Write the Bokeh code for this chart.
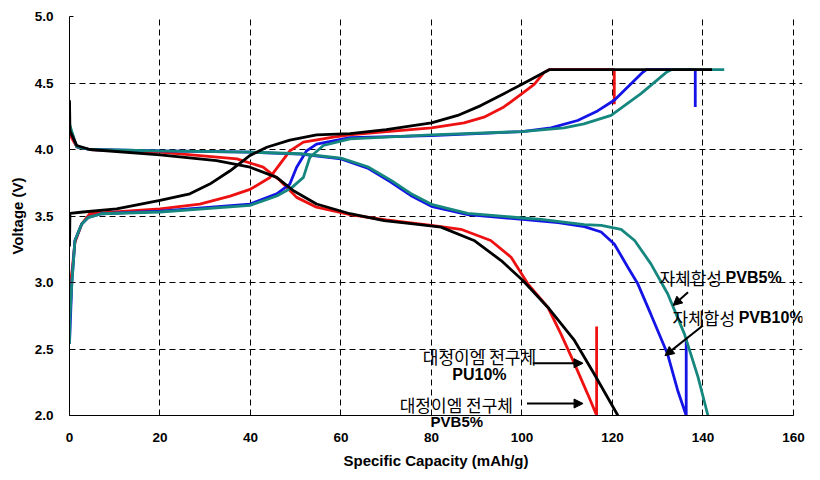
from bokeh.plotting import figure
from bokeh.models import (Range1d, FixedTicker, PrintfTickFormatter, Label, Arrow,
                          NormalHead, LinearAxis)
from bokeh.core.properties import value
from bokeh.embed import file_html
from bokeh.resources import INLINE

# ---- data (capacity mAh/g, voltage V) ----
black_chg_x = [0, 0.1, 3, 10.4, 20, 26.6, 31, 35.5, 39.9, 43.6, 48.7, 54.6, 62, 70, 80, 85.8, 90.9, 96, 100, 106, 142]
black_chg_v = [3.27, 3.52, 3.53, 3.554, 3.617, 3.667, 3.74, 3.84, 3.955, 4.017, 4.07, 4.11, 4.12, 4.15, 4.20, 4.256, 4.33, 4.42, 4.49, 4.6, 4.6]
black_dis_x = [0, 0.1, 1.6, 4.5, 20, 32.5, 39.9, 45.8, 49.5, 54.6, 62, 69.5, 76, 82.1, 89.4, 95.4, 100.2, 105.7, 111.6, 116, 121.2]
black_dis_v = [4.37, 4.14, 4.03, 4.0, 3.96, 3.917, 3.867, 3.79, 3.69, 3.59, 3.517, 3.466, 3.44, 3.416, 3.316, 3.165, 3.015, 2.814, 2.564, 2.31, 2.0]

red_chg_x = [0, 0.6, 1.2, 2.7, 4.5, 10, 20, 28.8, 35.5, 39.9, 44.3, 46.5, 48.7, 51.7, 58.3, 62, 68.8, 80, 87.2, 91.6, 96, 100, 102.7, 104.9, 106, 120.4, 120.4]
red_chg_v = [2.94, 3.1, 3.3, 3.44, 3.517, 3.53, 3.554, 3.59, 3.65, 3.70, 3.79, 3.89, 3.99, 4.055, 4.093, 4.11, 4.13, 4.163, 4.2, 4.243, 4.32, 4.42, 4.49, 4.58, 4.6, 4.6, 4.34]
red_dis_x = [0, 0.3, 1.6, 4.5, 20, 37, 42.8, 46.5, 50.2, 54.6, 62, 70, 80, 86.5, 93.1, 97.6, 101.3, 105.7, 108.6, 111.6, 114.5, 116.4, 116.5, 116.5]
red_dis_v = [4.17, 4.1, 4.02, 4.0, 3.98, 3.93, 3.867, 3.767, 3.64, 3.566, 3.51, 3.47, 3.43, 3.40, 3.316, 3.19, 2.99, 2.814, 2.614, 2.39, 2.163, 2.01, 2.0, 2.67]

blue_chg_x = [0, 0.5, 1.2, 2.7, 4.2, 7.1, 20, 39.9, 45.8, 48.7, 50.2, 52.4, 54.6, 62, 80, 100, 106.4, 112.3, 116.7, 120.4, 126.7, 127.5, 138.3, 138.3]
blue_chg_v = [2.54, 2.99, 3.316, 3.44, 3.49, 3.517, 3.536, 3.59, 3.667, 3.74, 3.867, 3.99, 4.04, 4.09, 4.105, 4.135, 4.163, 4.218, 4.29, 4.37, 4.58, 4.6, 4.6, 4.32]
blue_dis_x = [0, 1.6, 4.5, 20, 40, 51.1, 60, 65.9, 71, 75.4, 80.2, 88, 100.1, 108, 113.8, 117.5, 120.4, 123.4, 125.6, 128.5, 132.2, 134.4, 136.3, 136.3]
blue_dis_v = [4.17, 4.02, 4.0, 3.99, 3.98, 3.965, 3.93, 3.86, 3.755, 3.655, 3.57, 3.51, 3.475, 3.45, 3.42, 3.38, 3.29, 3.115, 2.99, 2.76, 2.46, 2.19, 2.0, 2.58]

teal_chg_x = [0, 0.1, 0.5, 1.2, 2.7, 4.2, 7.1, 20, 39.9, 45.8, 49, 51.7, 53.1, 56.1, 62, 80, 100, 109.3, 113.7, 119.7, 126.3, 131.9, 133, 144.7]
teal_chg_v = [2.54, 2.74, 2.99, 3.316, 3.44, 3.49, 3.517, 3.53, 3.58, 3.65, 3.71, 3.79, 3.94, 4.03, 4.08, 4.11, 4.135, 4.163, 4.193, 4.256, 4.42, 4.58, 4.6, 4.6]
teal_dis_x = [0, 1.6, 4.5, 20, 40, 51.1, 60, 65.9, 71, 75.4, 80.2, 88, 100.1, 104.2, 113.8, 117.5, 121.9, 124.9, 128.5, 132.2, 135.9, 138.9, 141.1]
teal_dis_v = [4.19, 4.02, 4.0, 3.99, 3.98, 3.968, 3.935, 3.87, 3.77, 3.67, 3.585, 3.52, 3.485, 3.475, 3.435, 3.43, 3.40, 3.316, 3.14, 2.915, 2.614, 2.29, 2.0]

x_ticks = [0, 20, 40, 60, 80, 100, 120, 140, 160]
y_ticks = [2.0, 2.5, 3.0, 3.5, 4.0, 4.5, 5.0]

kr_texts = ["대정이엠 전구체", "대정이엠 전구체", "자체합성", "자체합성"]
en_texts = ["PU10%", "PVB5%", "PVB5%", "PVB10%"]

KR = "Noto Sans CJK KR"
AX = "Liberation Sans"

p = figure(width=810, height=476, output_backend="svg", toolbar_location=None,
           x_range=Range1d(0, 162), y_range=Range1d(2, 5), x_axis_location=None,
           min_border_left=69, min_border_right=8, min_border_top=16, min_border_bottom=61)
p.outline_line_color = None
p.background_fill_color = "white"

for g, t in ((p.xgrid, x_ticks), (p.ygrid, y_ticks)):
    g.ticker = FixedTicker(ticks=t)
    g.grid_line_color = "black"
    g.grid_line_dash = "6 4"
    g.grid_line_width = 1
p.ygrid.bounds = (0, 160)

# y axis
ya = p.yaxis[0]
ya.ticker = FixedTicker(ticks=y_ticks)
ya.formatter = PrintfTickFormatter(format="%.1f")

# bottom: axis A carries the axis line, inner ticks and the "PVB5%" note
xa = LinearAxis(ticker=FixedTicker(ticks=[85.6], minor_ticks=x_ticks),
                major_label_overrides={85.6: en_texts[1]}, bounds=(0, 160))
xa.axis_line_color = "black"
xa.major_tick_line_color = None
xa.major_tick_in = 0
xa.major_tick_out = 0
xa.minor_tick_line_color = "black"
xa.minor_tick_in = 4
xa.minor_tick_out = 0
xa.major_label_text_font = AX
xa.major_label_text_font_style = "bold"
xa.major_label_text_font_size = "15px"
xa.major_label_text_color = "black"
xa.major_label_standoff = -3
# axis B carries the tick labels and title
xb = LinearAxis(ticker=FixedTicker(ticks=x_ticks), axis_label="Specific Capacity (mAh/g)")
xb.axis_line_color = None
xb.major_tick_line_color = None
xb.major_tick_in = 0
xb.major_tick_out = 0
xb.minor_tick_line_color = None
xb.minor_tick_in = 0
xb.minor_tick_out = 0
xb.major_label_standoff = 0
xb.axis_label_standoff = 7
p.add_layout(xa, "below")
p.add_layout(xb, "below")

for ax in (ya, xb):
    ax.axis_line_width = 1
    ax.major_label_text_font = AX
    ax.major_label_text_font_style = "bold"
    ax.major_label_text_font_size = "13.5px"
    ax.major_label_text_color = "black"
    ax.axis_label_text_font = AX
    ax.axis_label_text_font_style = "bold"
    ax.axis_label_text_font_size = "15px"
    ax.axis_label_text_color = "black"
ya.axis_label = "Voltage (V)"
ya.axis_line_color = "black"
ya.major_tick_in = 4
ya.major_tick_out = 0
ya.minor_tick_line_color = None
ya.major_label_standoff = 16
ya.axis_label_standoff = 6

LW = 2.8
red, blue, teal = "#ee1111", "#1414e6", "#16877e"
p.line(red_chg_x, red_chg_v, color=red, line_width=LW)
p.line(red_dis_x, red_dis_v, color=red, line_width=LW)
p.line(blue_chg_x, blue_chg_v, color=blue, line_width=LW)
p.line(blue_dis_x, blue_dis_v, color=blue, line_width=LW)
p.line(teal_chg_x, teal_chg_v, color=teal, line_width=LW)
p.line(teal_dis_x, teal_dis_v, color=teal, line_width=LW)
p.line(black_chg_x, black_chg_v, color="black", line_width=LW)
p.line(black_dis_x, black_dis_v, color="black", line_width=LW)

# annotations
def note(x, y, t, font, size, style, align):
    p.add_layout(Label(x=x, y=y, text=t, text_font=font, text_font_size=size,
                       text_font_style=style, text_align=align,
                       text_baseline="middle", text_color="black"))

note(90.6, 2.44, kr_texts[0], KR, "17px", "normal", "center")
note(90.6, 2.312, en_texts[0], AX, "16px", "bold", "center")
note(85.5, 2.079, kr_texts[1], KR, "17px", "normal", "center")
note(144.2, 3.038, kr_texts[2], KR, "17px", "normal", "right")
note(145.0, 3.038, en_texts[2], AX, "16px", "bold", "left")
note(147.1, 2.739, kr_texts[3], KR, "17px", "normal", "right")
note(147.9, 2.739, en_texts[3], AX, "16px", "bold", "left")

arrows = [(102.4, 2.393, 113.5, 2.393), (101.1, 2.09, 113.5, 2.09),
          (136.7, 2.927, 133.4, 2.827), (140.0, 2.677, 131.6, 2.45)]
for x0, y0, x1, y1 in arrows:
    p.add_layout(Arrow(end=NormalHead(size=9, fill_color="black", line_color="black"),
                       x_start=x0, y_start=y0, x_end=x1, y_end=y1,
                       line_width=2, line_color="black"))

open("out.html", "w").write(file_html(p, INLINE))
